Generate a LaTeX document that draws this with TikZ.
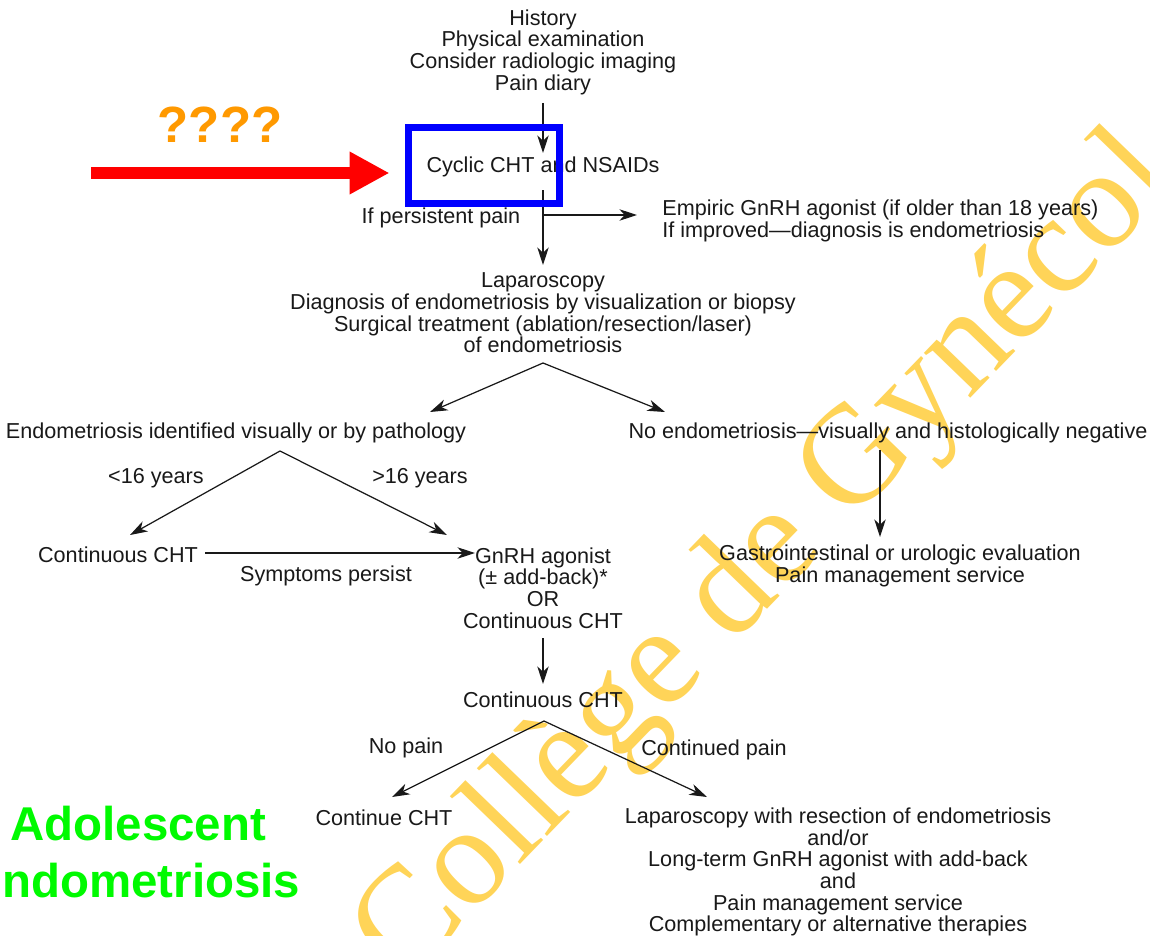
\documentclass[tikz,border=0pt]{standalone}
\usepackage{fontspec}
\setmainfont{Liberation Sans}
\newfontfamily\markfont{Liberation Serif}
\usetikzlibrary{arrows.meta}
\definecolor{ink}{RGB}{25,25,25}
\definecolor{gold}{RGB}{255,212,88}
\definecolor{quest}{RGB}{255,153,0}
\definecolor{title}{RGB}{0,250,0}
\tikzset{
  lbl/.style={font=\fontsize{12.3}{12.3}\selectfont, align=center, inner sep=0pt, text=ink},
  arr/.style={draw=ink, line width=0.7pt, -{Stealth[length=10pt,width=6.5pt,inset=3pt]}},
  redarrow/.style={draw=red, line width=0.24cm, -{Triangle[length=0.8cm,width=0.8cm]}},
  bigsans/.style={font=\bfseries\fontsize{#1}{#1}\selectfont, inner sep=0pt}
}

\begin{document}
\begin{tikzpicture}[x=0.02cm,y=-0.02cm]
\useasboundingbox (0,0) rectangle (1150,936);
\fill[white] (0,0) rectangle (1150,936);
\begin{scope}
\clip (0,0) rectangle (1150,936);
\node[rotate=46, text=gold, inner sep=0pt, font=\markfont\fontsize{80}{80}\selectfont] (mark) at (768,560) {Collège de Gynécol};
\end{scope}

\node[lbl] (hist) at (543,52) {History\\Physical examination\\Consider radiologic imaging\\Pain diary};
\node[lbl] (cyclic) at (543,167) {Cyclic CHT and NSAIDs};
\node[lbl] (persist) at (441,218) {If persistent pain};
\node[lbl, align=left, anchor=west] (empiric) at (662,221) {Empiric GnRH agonist (if older than 18 years)\\If improved—diagnosis is endometriosis};
\node[lbl] (lap) at (543,313) {Laparoscopy\\Diagnosis of endometriosis by visualization or biopsy\\Surgical treatment (ablation/resection/laser)\\of endometriosis};
\node[lbl] (endo) at (236,433) {Endometriosis identified visually or by pathology};
\node[lbl] (noendo) at (888,433) {No endometriosis—visually and histologically negative};
\node[lbl] (young) at (156,478) {<16 years};
\node[lbl] (older) at (420,478) {>16 years};
\node[lbl] (cont) at (118,555) {Continuous CHT};
\node[lbl] (sympt) at (326,576) {Symptoms persist};
\node[lbl] (gnrh) at (543,588) {GnRH agonist\\(± add-back)*\\OR\\Continuous CHT};
\node[lbl] (gi) at (900,566) {Gastrointestinal or urologic evaluation\\Pain management service};
\node[lbl] (contb) at (543,700) {Continuous CHT};
\node[lbl] (nopain) at (406,748) {No pain};
\node[lbl] (contpain) at (714,750) {Continued pain};
\node[lbl] (keep) at (384,818) {Continue CHT};
\node[lbl] (final) at (838,872) {Laparoscopy with resection of endometriosis\\and/or\\Long-term GnRH agonist with add-back\\and\\Pain management service\\Complementary or alternative therapies};

\coordinate (histout) at (543,103);
\coordinate (cycin) at (543,153);
\coordinate (cycout) at (543,190);
\coordinate (cycfork) at (543,215);
\coordinate (empirictip) at (637,215);
\coordinate (lapin) at (543,265);
\coordinate (lapfork) at (543,363);
\coordinate (endotip) at (430,412);
\coordinate (noendotip) at (665,412);
\coordinate (noendoout) at (880,450);
\coordinate (gitip) at (880,537);
\coordinate (endofork) at (280,451);
\coordinate (conttip) at (130,535);
\coordinate (gnrhtip) at (447,535);
\coordinate (contout) at (205,553);
\coordinate (gnrhin) at (475,553);
\coordinate (gnrhout) at (543,638);
\coordinate (contbin) at (543,684);
\coordinate (contbfork) at (544,721);
\coordinate (keeptip) at (392,797);
\coordinate (finaltip) at (707,797);

\draw[arr] (histout) -- (cycin);
\draw[arr] (cycout) -- (lapin);
\draw[arr] (cycfork) -- (empirictip);
\draw[arr] (lapfork) -- (endotip);
\draw[arr] (lapfork) -- (noendotip);
\draw[arr] (noendoout) -- (gitip);
\draw[arr] (endofork) -- (conttip);
\draw[arr] (endofork) -- (gnrhtip);
\draw[arr] (contout) -- (gnrhin);
\draw[arr] (gnrhout) -- (contbin);
\draw[arr] (contbfork) -- (keeptip);
\draw[arr] (contbfork) -- (finaltip);

\node[draw=blue, line width=0.14cm, minimum width=3.02cm, minimum height=1.52cm, inner sep=0pt] (bluebox) at (484,165.5) {};
\coordinate (redtail) at (91,173);
\draw[redarrow, shorten >=0.31cm] (redtail) -- (redtail -| bluebox.west);
\node[bigsans=29, text=quest, anchor=base] (marks) at (220,143) {????};
\node[bigsans=27, text=title, anchor=base west] (adol) at (10,840) {Adolescent};
\node[bigsans=27, text=title, anchor=base west] (endotitle) at (2,897) {ndometriosis};
\end{tikzpicture}
\end{document}
